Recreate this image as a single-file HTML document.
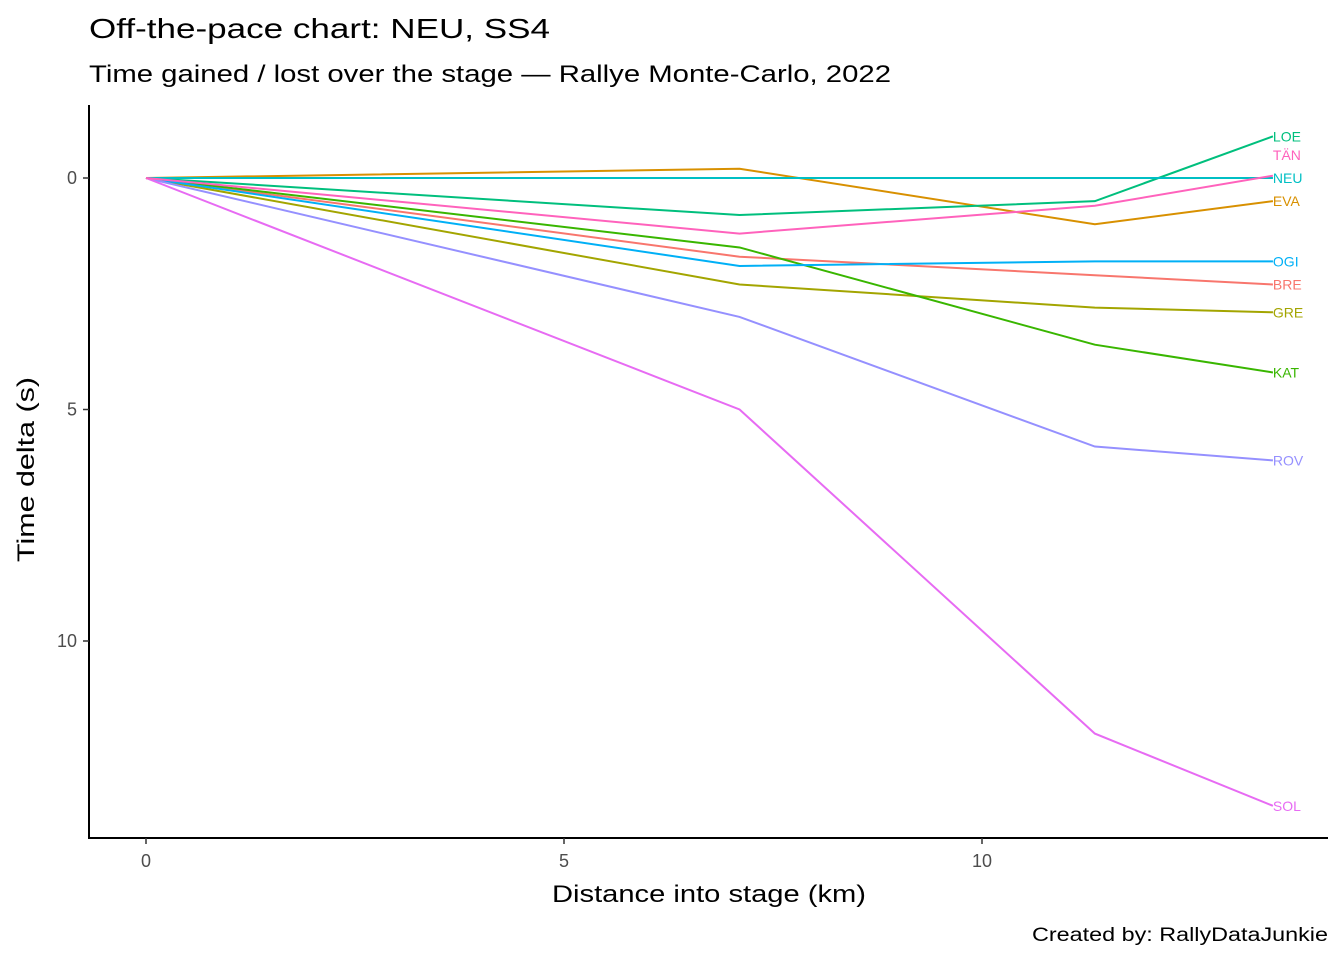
<!DOCTYPE html>
<html><head><meta charset="utf-8"><style>
body{margin:0;background:#fff;font-family:"Liberation Sans",sans-serif;}
svg text{font-family:"Liberation Sans",sans-serif;}
</style></head><body>
<svg id="chart" width="1344" height="960">
<text x="89" y="38" font-size="28" fill="#000" textLength="461" lengthAdjust="spacingAndGlyphs">Off-the-pace chart: NEU, SS4</text>
<text x="89" y="82" font-size="24" fill="#000" textLength="802" lengthAdjust="spacingAndGlyphs">Time gained / lost over the stage — Rallye Monte-Carlo, 2022</text>
<text x="552" y="902" font-size="24" textLength="314" lengthAdjust="spacingAndGlyphs">Distance into stage (km)</text>
<text transform="translate(34,562) rotate(-90)" font-size="24" textLength="185" lengthAdjust="spacingAndGlyphs">Time delta (s)</text>
<text x="1032" y="941" font-size="19" textLength="296" lengthAdjust="spacingAndGlyphs">Created by: RallyDataJunkie</text>
<g id="plot"></g>
</svg>
<script>
const distances=[0,7.1,11.35,13.48];
const drivers=["BRE","EVA","GRE","KAT","LOE","NEU","OGI","ROV","SOL","TÄN"];
const colors=["#F8766D","#D89000","#A3A500","#39B600","#00BF7D","#00BFC4","#00B0F6","#9590FF","#E76BF3","#FF62BC"];
const BRE=[0,1.7,2.1,2.3];
const EVA=[0,-0.2,1.0,0.5];
const GRE=[0,2.3,2.8,2.9];
const KAT=[0,1.5,3.6,4.2];
const LOE=[0,0.8,0.5,-0.9];
const NEU=[0,0,0,0];
const OGI=[0,1.9,1.8,1.8];
const ROV=[0,3.0,5.8,6.1];
const SOL=[0,5.0,12.0,13.56];
const TAN=[0,1.2,0.6,-0.05];
const series=[BRE,EVA,GRE,KAT,LOE,NEU,OGI,ROV,SOL,TAN];
const labelOffset={"TÄN":-0.45};
const xTicks=[0,5,10];
const yTicks=[0,5,10];
const NS="http://www.w3.org/2000/svg";
const sx=v=>146+v*83.6;
const sy=v=>178+v*46.3;
const g=document.getElementById('plot');
function mk(t,a){const e=document.createElementNS(NS,t);for(const k in a)e.setAttribute(k,a[k]);g.appendChild(e);return e;}
let ax=mk('path',{d:'M89,105V838H1328',fill:'none',stroke:'#000','stroke-width':2});


xTicks.forEach(t=>{
 const l=mk('line',{x1:sx(t),x2:sx(t),y1:838,y2:844,stroke:'#333','stroke-width':1.5});
 
 
 const tx=mk('text',{x:sx(t),y:867,'font-size':18,fill:'#4d4d4d','text-anchor':'middle'});tx.textContent=t;
 
 
});
yTicks.forEach(t=>{
 const l=mk('line',{x1:83,x2:89,y1:sy(t),y2:sy(t),stroke:'#333','stroke-width':1.5});
 
 
 const tx=mk('text',{x:77,y:sy(t)+6,'font-size':18,fill:'#4d4d4d','text-anchor':'end'});tx.textContent=t;
 
 
});
series.forEach((s,i)=>{
 const p=mk('polyline',{points:s.map((v,j)=>sx(distances[j])+','+sy(v)).join(' '),fill:'none',stroke:colors[i],'stroke-width':2});
 
 
 const last=s[s.length-1]+(labelOffset[drivers[i]]||0);
 const t=mk('text',{x:sx(distances[distances.length-1]),y:sy(last)+5,'font-size':14,fill:colors[i]});t.textContent=drivers[i];
 
 
});
</script>
</body></html>
